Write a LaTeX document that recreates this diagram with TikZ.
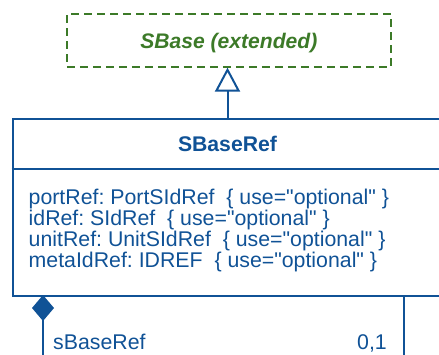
\documentclass[tikz,border=0pt]{standalone}
\usepackage{fontspec}
\setmainfont{Liberation Sans}[Ligatures=TeXOff]
\usetikzlibrary{arrows.meta}
\definecolor{umlblue}{RGB}{16,82,150}
\definecolor{umlgreen}{RGB}{60,122,40}
\frenchspacing
\begin{document}
\begin{tikzpicture}[x=1pt,y=-1pt,
  umlline/.style={draw=umlblue, line width=2pt},
  attr/.style={inner sep=0pt, anchor=base west, text=umlblue, font=\fontsize{21.3}{21.3}\selectfont\frenchspacing},
  ttl/.style={inner sep=0pt, anchor=base, text=umlblue, font=\fontsize{21.2}{21.2}\selectfont\bfseries},
  ext/.style={inner sep=0pt, anchor=base, text=umlgreen, font=\fontsize{21.1}{21.1}\selectfont\bfseries\itshape}]
\useasboundingbox (0,0) rectangle (439,354);
\clip (0,0) rectangle (439,354);
% extended SBase
\node[draw=umlgreen, line width=2pt, dash pattern=on 8pt off 5pt, minimum width=324pt, minimum height=52.7pt, inner sep=0pt] (base) at (228.8,40.3) {};
\node[ext] (basetxt) at (228.8,48.5) {SBase (extended)};
% SBaseRef class box
\node[umlline, minimum width=433pt, minimum height=177pt, inner sep=0pt, anchor=north west] (ref) at (11.7,118) {};
\coordinate (divL) at (11.7,169.3);
\coordinate (divR) at (445,169.3);
\draw[umlline] (divL) -- (divR);
\node[ttl] (title) at (227.5,151.5) {SBaseRef};
\node[attr] (a1) at (28.5,204) {portRef: PortSIdRef\ \ \{ use="optional"\ \}};
\node[attr] (a2) at (28.5,225.3) {idRef: SIdRef\ \ \{ use="optional"\ \}};
\node[attr] (a3) at (28.5,246.5) {unitRef: UnitSIdRef\ \ \{ use="optional"\ \}};
\node[attr] (a4) at (28.5,267.5) {metaIdRef: IDREF\ \ \{ use="optional"\ \}};
% generalization
\coordinate (gen) at (227.5,118);
\draw[umlline, -{Triangle[open, length=24pt, width=25pt, fill=white]}] (gen) -- (base.south -| gen);
% composition
\coordinate (compS) at (43,295);
\coordinate (compE) at (43,360);
\draw[umlline, {Diamond[length=26pt, width=22pt, fill=umlblue]}-] (compS) -- (compE);
\coordinate (rS) at (404,295);
\coordinate (rE) at (404,360);
\draw[umlline] (rS) -- (rE);
\node[attr] (role) at (53,349) {sBaseRef};
\node[attr, anchor=base east] (mult) at (387,349) {0,1};
\end{tikzpicture}
\end{document}
